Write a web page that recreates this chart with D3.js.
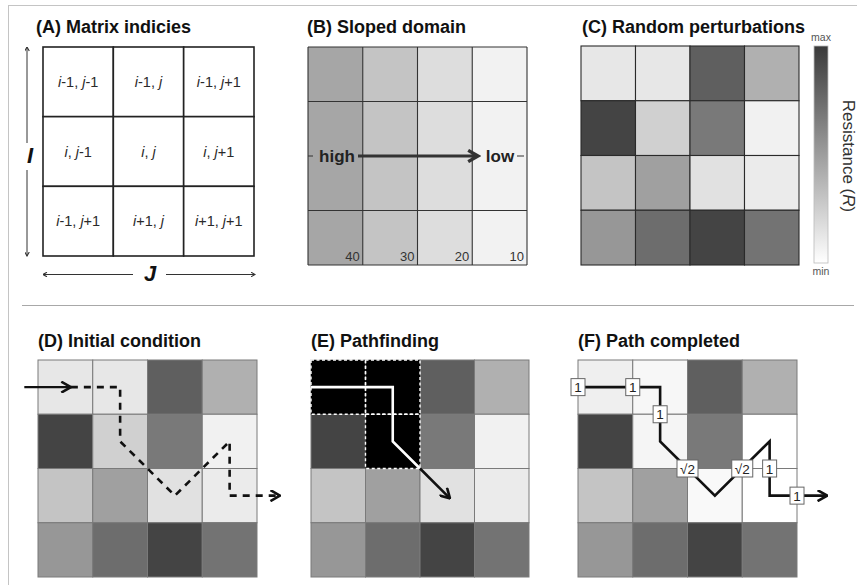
<!DOCTYPE html>
<html>
<head>
<meta charset="utf-8">
<script src="https://cdn.jsdelivr.net/npm/d3@7"></script>
<style>
  html, body { margin: 0; padding: 0; background: #fff; }
  svg { display: block; font-family: "Liberation Sans", Arial, Helvetica, sans-serif; }
</style>
</head>
<body>
<svg id="fig" width="857" height="585"></svg>
<script>
// ---- data ----
const indexLabels = [
  ["i-1", "j-1"], ["i-1", "j"], ["i-1", "j+1"],
  ["i", "j-1"], ["i", "j"], ["i", "j+1"],
  ["i-1", "j+1"], ["i+1", "j"], ["i+1", "j+1"]
];
const slopeValues = [40, 30, 20, 10];          // elevation by column
const resistanceRows = [                        // relative resistance, 0 = min, 1 = max
  [0.12, 0.12, 0.81, 0.40],
  [0.95, 0.24, 0.68, 0.07],
  [0.30, 0.48, 0.15, 0.10],
  [0.53, 0.74, 0.95, 0.71]
];
const completedRows = [                         // resistance after the path is carved
  [0.08, 0.04, 0.81, 0.40],
  [0.95, 0.05, 0.68, 0.00],
  [0.30, 0.48, 0.03, 0.00],
  [0.53, 0.74, 0.95, 0.71]
];
const visitedCells = [[0, 0], [0, 1], [1, 1]];  // [row, col]
const entryArrow = [[-0.25, 0.5], [0.6, 0.5]];  // [col, row] in cell units
const initialPath = [[0.6, 0.5], [1.5, 0.5], [1.5, 1.5], [2.5, 2.5], [3.5, 1.5], [3.5, 2.5], [4.42, 2.5]];
const searchPathInside = [[0, 0.5], [1.5, 0.5], [1.5, 1.5], [2, 2]];
const searchPathAhead = [[2, 2], [2.55, 2.55]];
const completedPath = [[0, 0.5], [1.5, 0.5], [1.5, 1.5], [2.5, 2.5], [3.5, 1.5], [3.5, 2.5], [4.55, 2.5]];
const stepCosts = [
  { col: 0, row: 0.5, label: "1" },
  { col: 1, row: 0.5, label: "1" },
  { col: 1.5, row: 1, label: "1" },
  { col: 2, row: 2, label: "√2" },
  { col: 3, row: 2, label: "√2" },
  { col: 3.5, row: 2, label: "1" },
  { col: 4, row: 2.5, label: "1" }
];

// ---- setup ----
const svg = d3.select("#fig");
const gray = d3.scaleLinear().domain([0, 1]).range(["#ffffff", "#3a3a3a"]).clamp(true);
const slopeGray = d3.scalePow().exponent(1.4).domain([0, 40]).range(["#ffffff", "#a6a6a6"]);

const defs = svg.append("defs");
function chevron(id, color, size) {
  defs.append("marker")
    .attr("id", id).attr("viewBox", "0 0 10 10")
    .attr("refX", 9).attr("refY", 5)
    .attr("markerUnits", "userSpaceOnUse")
    .attr("markerWidth", size).attr("markerHeight", size)
    .attr("orient", "auto")
    .append("path").attr("d", "M2,1 L9,5 L2,9")
    .attr("fill", "none").attr("stroke", color).attr("stroke-width", 2.2)
    .attr("stroke-linecap", "square");
}
chevron("chev", "#111", 12);
chevron("tinyArrow", "#333", 5);
defs.append("marker")
  .attr("id", "slopeHead").attr("viewBox", "0 0 10 10")
  .attr("refX", 8).attr("refY", 5)
  .attr("markerUnits", "userSpaceOnUse")
  .attr("markerWidth", 14).attr("markerHeight", 14)
  .attr("orient", "auto")
  .append("path").attr("d", "M1,1 L8,5 L1,9")
  .attr("fill", "none").attr("stroke", "#333").attr("stroke-width", 2.4);

// frame and divider
svg.append("line").attr("x1", 8).attr("x2", 857).attr("y1", 5.5).attr("y2", 5.5).attr("stroke", "#c4c4c4");
svg.append("line").attr("x1", 8.5).attr("x2", 8.5).attr("y1", 5).attr("y2", 585).attr("stroke", "#c4c4c4");
svg.append("line").attr("x1", 22).attr("x2", 854).attr("y1", 305.5).attr("y2", 305.5).attr("stroke", "#a8a8a8").attr("stroke-width", 1.2);

function title(x, y, text) {
  svg.append("text").attr("x", x).attr("y", y)
    .attr("font-size", 18).attr("font-weight", "bold").attr("fill", "#111").text(text);
}

function gridScales(x0, y0, w, h, n) {
  return {
    x: d3.scaleLinear().domain([0, n]).range([x0, x0 + w]),
    y: d3.scaleLinear().domain([0, n]).range([y0, y0 + h])
  };
}

function drawCells(g, s, rows, fillFn, stroke, sw) {
  rows.forEach((row, r) => row.forEach((v, c) => {
    g.append("rect")
      .attr("x", s.x(c)).attr("y", s.y(r))
      .attr("width", s.x(c + 1) - s.x(c)).attr("height", s.y(r + 1) - s.y(r))
      .attr("fill", fillFn(v)).attr("stroke", stroke).attr("stroke-width", sw);
  }));
}

const line = (s) => d3.line().x(d => s.x(d[0])).y(d => s.y(d[1]));

// ---- (A) Matrix indicies ----
title(36, 33, "(A) Matrix indicies");
{
  const s = gridScales(43, 47, 211, 209, 3);
  const g = svg.append("g");
  indexLabels.forEach((lab, k) => {
    const r = Math.floor(k / 3), c = k % 3;
    g.append("rect").attr("x", s.x(c)).attr("y", s.y(r))
      .attr("width", s.x(c + 1) - s.x(c)).attr("height", s.y(r + 1) - s.y(r))
      .attr("fill", "#fff").attr("stroke", "#222").attr("stroke-width", 1.6);
    const t = g.append("text").attr("x", (s.x(c) + s.x(c + 1)) / 2).attr("y", (s.y(r) + s.y(r + 1)) / 2 + 5)
      .attr("text-anchor", "middle").attr("font-size", 14.5).attr("fill", "#2a2a2a");
    lab.forEach((part, p) => {
      t.append("tspan").attr("font-style", "italic").text(part[0]);
      if (part.length > 1) t.append("tspan").text(part.slice(1));
      if (p === 0) t.append("tspan").text(", ");
    });
  });
  // I axis
  const ax = 27;
  g.append("line").attr("x1", ax).attr("x2", ax).attr("y1", 143).attr("y2", 47)
    .attr("stroke", "#333").attr("stroke-width", 1).attr("marker-end", "url(#tinyArrow)");
  g.append("line").attr("x1", ax).attr("x2", ax).attr("y1", 170).attr("y2", 256)
    .attr("stroke", "#333").attr("stroke-width", 1).attr("marker-end", "url(#tinyArrow)");
  g.append("text").attr("x", 30).attr("y", 163).attr("text-anchor", "middle")
    .attr("font-size", 22).attr("font-weight", "bold").attr("font-style", "italic").attr("fill", "#111").text("I");
  // J axis
  const ay = 274.5;
  g.append("line").attr("x1", 133).attr("x2", 43).attr("y1", ay).attr("y2", ay)
    .attr("stroke", "#333").attr("stroke-width", 1).attr("marker-end", "url(#tinyArrow)");
  g.append("line").attr("x1", 166).attr("x2", 255).attr("y1", ay).attr("y2", ay)
    .attr("stroke", "#333").attr("stroke-width", 1).attr("marker-end", "url(#tinyArrow)");
  g.append("text").attr("x", 150).attr("y", 281).attr("text-anchor", "middle")
    .attr("font-size", 22).attr("font-weight", "bold").attr("font-style", "italic").attr("fill", "#111").text("J");
}

// ---- (B) Sloped domain ----
title(307, 33, "(B) Sloped domain");
{
  const s = gridScales(308, 47, 219, 218, 4);
  const g = svg.append("g");
  const rows = d3.range(4).map(() => slopeValues.slice());
  rows.forEach((row, r) => row.forEach((v, c) => {
    g.append("rect").attr("x", s.x(c)).attr("y", s.y(r))
      .attr("width", s.x(c + 1) - s.x(c)).attr("height", s.y(r + 1) - s.y(r))
      .attr("fill", slopeGray(v)).attr("stroke", "none");
  }));
  // grid lines (middle row line only shows as ticks beside the labels)
  [0, 1, 2, 3, 4].forEach(c => g.append("line").attr("x1", s.x(c)).attr("x2", s.x(c))
    .attr("y1", s.y(0)).attr("y2", s.y(4)).attr("stroke", "#333").attr("stroke-width", 1.1));
  [0, 1, 3, 4].forEach(r => g.append("line").attr("x1", s.x(0)).attr("x2", s.x(4))
    .attr("y1", s.y(r)).attr("y2", s.y(r)).attr("stroke", "#333").attr("stroke-width", 1.1));
  const my = s.y(2);
  g.append("line").attr("x1", s.x(0)).attr("x2", s.x(0) + 5).attr("y1", my).attr("y2", my).attr("stroke", "#333");
  g.append("line").attr("x1", 517).attr("x2", 524).attr("y1", my).attr("y2", my).attr("stroke", "#333");
  g.append("text").attr("x", 337).attr("y", my + 6).attr("text-anchor", "middle")
    .attr("font-size", 17).attr("font-weight", "bold").attr("fill", "#222").text("high");
  g.append("text").attr("x", 500).attr("y", my + 6).attr("text-anchor", "middle")
    .attr("font-size", 17).attr("font-weight", "bold").attr("fill", "#222").text("low");
  g.append("line").attr("x1", 358).attr("x2", 478).attr("y1", my).attr("y2", my)
    .attr("stroke", "#333").attr("stroke-width", 3.2).attr("marker-end", "url(#slopeHead)");
  slopeValues.forEach((v, c) => g.append("text")
    .attr("x", s.x(c + 1) - 3).attr("y", s.y(4) - 4).attr("text-anchor", "end")
    .attr("font-size", 13).attr("fill", "#333").text(v));
}

// ---- (C) Random perturbations ----
title(582, 33, "(C) Random perturbations");
{
  const s = gridScales(581, 46, 218, 219, 4);
  const g = svg.append("g");
  drawCells(g, s, resistanceRows, gray, "#2a2a2a", 1.1);
  // colour bar
  const grad = defs.append("linearGradient").attr("id", "rbar")
    .attr("x1", 0).attr("x2", 0).attr("y1", 1).attr("y2", 0);
  d3.range(0, 1.01, 0.25).forEach(t => grad.append("stop")
    .attr("offset", t).attr("stop-color", gray(t)));
  const bar = d3.scaleLinear().domain([0, 1]).range([263, 46]);
  g.append("rect").attr("x", 814).attr("y", bar(1)).attr("width", 14).attr("height", bar(0) - bar(1))
    .attr("fill", "url(#rbar)").attr("stroke", "#bbb").attr("stroke-width", 0.8);
  g.append("text").attr("x", 821).attr("y", 41).attr("text-anchor", "middle")
    .attr("font-size", 10.5).attr("fill", "#555").text("max");
  g.append("text").attr("x", 821).attr("y", 275).attr("text-anchor", "middle")
    .attr("font-size", 10.5).attr("fill", "#555").text("min");
  const rt = g.append("text").attr("transform", "translate(843,156) rotate(90)")
    .attr("text-anchor", "middle").attr("font-size", 17).attr("fill", "#333");
  rt.append("tspan").text("Resistance (");
  rt.append("tspan").attr("font-style", "italic").text("R");
  rt.append("tspan").text(")");
}

// ---- (D) Initial condition ----
title(38, 347, "(D) Initial condition");
{
  const s = gridScales(38, 360, 219, 217, 4);
  const g = svg.append("g");
  drawCells(g, s, resistanceRows, gray, "#7a7a7a", 1);
  g.append("path").attr("d", line(s)(entryArrow)).attr("fill", "none")
    .attr("stroke", "#111").attr("stroke-width", 2.4).attr("marker-end", "url(#chev)");
  g.append("path").attr("d", line(s)(initialPath)).attr("fill", "none")
    .attr("stroke", "#111").attr("stroke-width", 2.6).attr("stroke-dasharray", "7,6")
    .attr("marker-end", "url(#chev)");
}

// ---- (E) Pathfinding ----
title(311, 347, "(E) Pathfinding");
{
  const s = gridScales(311, 360, 218, 217, 4);
  const g = svg.append("g");
  drawCells(g, s, resistanceRows, gray, "#7a7a7a", 1);
  visitedCells.forEach(([r, c]) => g.append("rect")
    .attr("x", s.x(c)).attr("y", s.y(r))
    .attr("width", s.x(c + 1) - s.x(c)).attr("height", s.y(r + 1) - s.y(r))
    .attr("fill", "#000"));
  visitedCells.forEach(([r, c]) => g.append("rect")
    .attr("x", s.x(c)).attr("y", s.y(r))
    .attr("width", s.x(c + 1) - s.x(c)).attr("height", s.y(r + 1) - s.y(r))
    .attr("fill", "none").attr("stroke", "#fff").attr("stroke-width", 1.4).attr("stroke-dasharray", "3,2.5"));
  g.append("path").attr("d", line(s)(searchPathInside)).attr("fill", "none")
    .attr("stroke", "#fff").attr("stroke-width", 2.6);
  g.append("path").attr("d", line(s)(searchPathAhead)).attr("fill", "none")
    .attr("stroke", "#111").attr("stroke-width", 2.6).attr("marker-end", "url(#chev)");
}

// ---- (F) Path completed ----
title(578, 347, "(F) Path completed");
{
  const s = gridScales(578, 360, 219, 217, 4);
  const g = svg.append("g");
  drawCells(g, s, completedRows, gray, "#7a7a7a", 1);
  g.append("path").attr("d", line(s)(completedPath)).attr("fill", "none")
    .attr("stroke", "#111").attr("stroke-width", 2.6).attr("stroke-linejoin", "miter")
    .attr("marker-end", "url(#chev)");
  stepCosts.forEach(d => {
    const w = d.label.length > 1 ? 21 : 14;
    g.append("rect").attr("x", s.x(d.col) - w / 2).attr("y", s.y(d.row) - 8.5)
      .attr("width", w).attr("height", 17)
      .attr("fill", "#fff").attr("stroke", "#666").attr("stroke-width", 1);
    g.append("text").attr("x", s.x(d.col)).attr("y", s.y(d.row) + 5)
      .attr("text-anchor", "middle").attr("font-size", 13.5).attr("fill", "#222").text(d.label);
  });
}
</script>
</body>
</html>
